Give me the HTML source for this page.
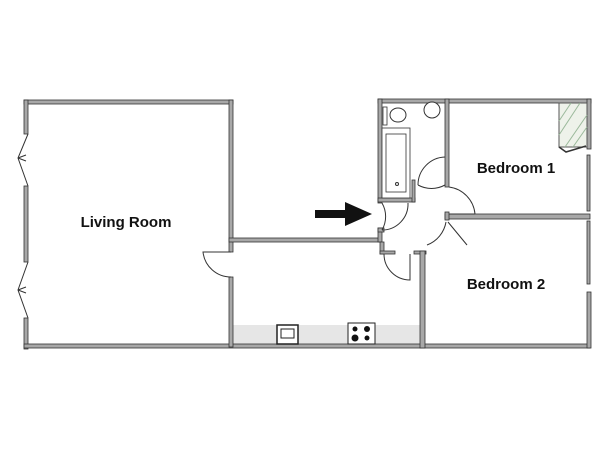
<!DOCTYPE html>
<html><head><style>body{margin:0;background:#fff}svg{display:block}</style></head><body>
<svg width="600" height="450" viewBox="0 0 600 450" xmlns="http://www.w3.org/2000/svg" font-family="Liberation Sans, Arial, sans-serif">
<rect width="600" height="450" fill="#fff"/>
<!-- counter -->
<rect x="233" y="325" width="189" height="19" fill="#e6e6e6"/>
<g fill="#a8a8a8" stroke="#333" stroke-width="0.8">
<!-- living room -->
<rect x="24" y="100" width="209" height="4"/>
<rect x="24" y="100" width="4" height="34"/>
<rect x="24" y="186" width="4" height="76"/>
<rect x="24" y="318" width="4" height="31"/>
<rect x="24" y="344" width="566" height="4"/>
<rect x="229" y="100" width="4" height="152"/>
<rect x="229" y="277" width="4" height="70"/>
<!-- kitchen top -->
<rect x="229" y="238" width="151" height="4"/>
<!-- right block -->
<rect x="378" y="99" width="213" height="4"/>
<rect x="378" y="99" width="4" height="104"/>
<rect x="378" y="198" width="37" height="4"/>
<rect x="412" y="180" width="3" height="22"/>
<rect x="378" y="228" width="4" height="14"/>
<rect x="378" y="228" width="6" height="4"/>
<rect x="380" y="242" width="4" height="12"/>
<rect x="380" y="251" width="15" height="3"/>
<rect x="414" y="251" width="12" height="3"/>
<rect x="420" y="251" width="5" height="97"/>
<rect x="445" y="99" width="4" height="88"/>
<rect x="445" y="214" width="145" height="5"/>
<rect x="445" y="212" width="4" height="8"/>
<rect x="587" y="99" width="4" height="50"/>
<rect x="587" y="155" width="3" height="56"/>
<rect x="587" y="221" width="3" height="63"/>
<rect x="587" y="292" width="4" height="56"/>
<!-- bath -->
<rect x="382" y="128" width="28" height="70" fill="#fff"/>
<rect x="386" y="134" width="20" height="58" fill="#fff"/>
<rect x="383" y="107" width="4" height="18" fill="#fff"/>
</g>
<!-- wardrobe -->
<rect x="559" y="103" width="28" height="44" fill="#eef2ea" stroke="#555" stroke-width="1"/>
<g stroke="#9bb99b" stroke-width="1">
<line x1="565" y1="147" x2="587" y2="115"/><line x1="573" y1="147" x2="587" y2="127"/><line x1="559" y1="135" x2="580" y2="103"/><line x1="559" y1="121" x2="571" y2="103"/>
</g>
<polyline points="559,147 566,152 586,146" fill="none" stroke="#333" stroke-width="1.5"/>
<!-- toilet, sink -->
<ellipse cx="398" cy="115" rx="8" ry="7" fill="#fff" stroke="#333"/>
<circle cx="432" cy="110" r="8" fill="#fff" stroke="#333"/>
<circle cx="397" cy="184" r="1.5" fill="none" stroke="#333"/>
<!-- doors -->
<g fill="none" stroke="#333" stroke-width="1">
<path d="M231 252 h-28 A28 28 0 0 0 231 277"/>
<path d="M382 203 A27 27 0 0 1 382 230 M382 230"/>
<path d="M382 230 A26 26 0 0 0 408 203"/>
<path d="M445 157 A28 28 0 0 0 418 185 M418 185 A28 28 0 0 0 445 185"/>
<path d="M449 187 A30 30 0 0 1 475 214 M449 214 h26"/>
<path d="M448 222 L467 245 M446 222 A30 30 0 0 1 427 245"/>
<path d="M384 254 A26 26 0 0 0 410 280 L410 254"/>
<path d="M28 134 L18 158 L28 186 M18 158 l8 -3 M18 158 l8 3"/>
<path d="M28 262 L18 290 L28 318 M18 290 l8 -3 M18 290 l8 3"/>
</g>
<!-- sink & stove -->
<rect x="277" y="325" width="21" height="19" fill="#fff" stroke="#222" stroke-width="1.5"/>
<rect x="281" y="329" width="13" height="9" fill="#fff" stroke="#222"/>
<rect x="348" y="323" width="27" height="21" fill="#fff" stroke="#222" stroke-width="1"/>
<circle cx="355" cy="329" r="2.5" fill="#111"/><circle cx="367" cy="329" r="3" fill="#111"/>
<circle cx="355" cy="338" r="3.5" fill="#111"/><circle cx="367" cy="338" r="2.5" fill="#111"/>
<!-- arrow -->
<polygon points="315,210 345,210 345,202 372,214 345,226 345,218 315,218" fill="#111"/>
<g font-weight="bold" font-size="15" fill="#111" text-anchor="middle">
<text x="126" y="227">Living Room</text>
<text x="516" y="173">Bedroom 1</text>
<text x="506" y="289">Bedroom 2</text>
</g>
</svg>
</body></html>
